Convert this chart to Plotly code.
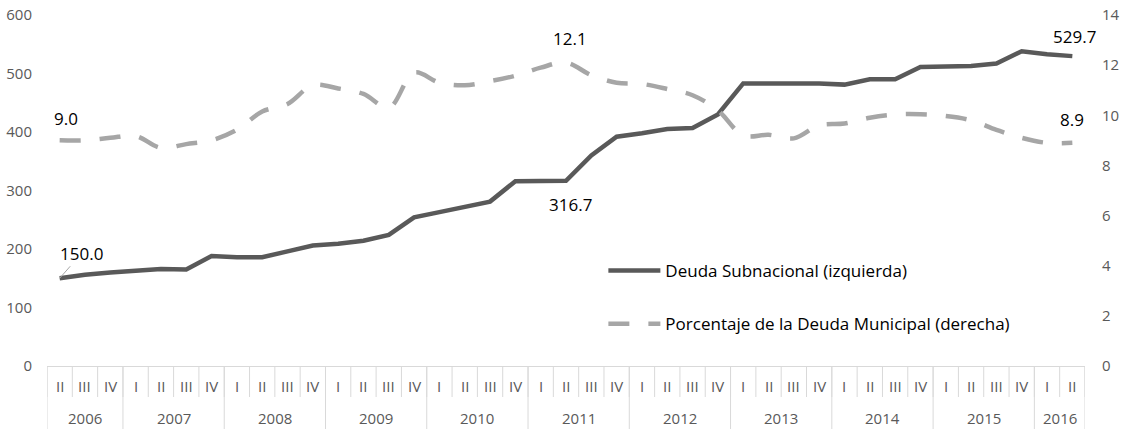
import plotly.graph_objects as go

# ---------------- data ----------------
years = ["2006"] * 3 + [str(y) for y in range(2007, 2016) for _ in range(4)] + ["2016"] * 2
quarters = ["II", "III", "IV"] + ["I", "II", "III", "IV"] * 9 + ["I", "II"]
categories = [f"{y} {q}" for y, q in zip(years, quarters)]

deuda_subnacional = [
    150.0, 156, 160, 163, 166, 165, 188, 186, 186, 196, 206,
    209, 214, 224, 254, 263, 272, 281, 316, 316, 316.7,
    360, 392, 398, 405, 407, 430, 483, 483, 483, 483,
    481, 490, 490, 511, 512, 513, 517, 538, 533, 529.7,
]
porcentaje_municipal = [
    9.0, 9.0, 9.1, 9.17, 8.7, 8.85, 9.0, 9.42, 10.15, 10.45, 11.2,
    11.07, 10.85, 10.3, 11.7, 11.3, 11.2, 11.36, 11.58, 11.9, 12.1,
    11.6, 11.3, 11.25, 11.05, 10.8, 10.2, 9.2, 9.22, 9.08, 9.6,
    9.67, 9.9, 10.03, 10.04, 9.97, 9.8, 9.42, 9.1, 8.9, 8.9,
]
left_ticks = [0, 100, 200, 300, 400, 500, 600]
right_ticks = [0, 2, 4, 6, 8, 10, 12, 14]

name_solid = "Deuda Subnacional (izquierda)"
name_dash = "Porcentaje de la Deuda Municipal (derecha)"

# ---------------- layout constants ----------------
W, H = 1127, 429
ML, MR, MT, MB = 47, 42, 15, 63
PH = H - MT - MB
FONT = "Open Sans"
GRAY_TXT = "#595959"
LINE_GRAY = "#D9D9D9"

fig = go.Figure()
fig.add_trace(go.Scatter(
    x=categories, y=deuda_subnacional, name=name_solid, mode="lines",
    line=dict(color="#595959", width=4.5), legendgroup="a", yaxis="y",
))
fig.add_trace(go.Scatter(
    x=categories, y=porcentaje_municipal, name=name_dash, mode="lines",
    line=dict(color="#A6A6A6", width=4.5, dash="21px,19px", shape="spline", smoothing=1),
    legendgroup="b", yaxis="y2",
))

annotations = []
n = len(categories)
lab_font = dict(size=17, color="#000000", family=FONT)
annotations.append(dict(x=categories[0], y=deuda_subnacional[0], xref="x", yref="y",
                        text=f"{deuda_subnacional[0]:.1f}", showarrow=True, ax=22, ay=-25,
                        arrowhead=0, arrowwidth=1, arrowcolor="#A6A6A6", standoff=0,
                        font=lab_font))
annotations.append(dict(x=categories[20], y=deuda_subnacional[20], xref="x", yref="y",
                        text=f"{deuda_subnacional[20]:.1f}", showarrow=False, xshift=4, yshift=-24,
                        font=lab_font))
annotations.append(dict(x=categories[n - 1], y=deuda_subnacional[n - 1], xref="x", yref="y",
                        text=f"{deuda_subnacional[n - 1]:.1f}", showarrow=False, xshift=2, yshift=20,
                        font=lab_font))
annotations.append(dict(x=categories[0], y=porcentaje_municipal[0], xref="x", yref="y2",
                        text=f"{porcentaje_municipal[0]:.1f}", showarrow=False, xshift=6, yshift=22,
                        font=lab_font))
annotations.append(dict(x=categories[20], y=porcentaje_municipal[20], xref="x", yref="y2",
                        text=f"{porcentaje_municipal[20]:.1f}", showarrow=False, xshift=4, yshift=24,
                        font=lab_font))
annotations.append(dict(x=categories[n - 1], y=porcentaje_municipal[n - 1], xref="x", yref="y2",
                        text=f"{porcentaje_municipal[n - 1]:.1f}", showarrow=False, xshift=0, yshift=23,
                        font=lab_font))

# category table: quarter labels and year labels
q_row_y = -20 / PH
y_row_y = -52 / PH
for c, q in zip(categories, quarters):
    annotations.append(dict(x=c, y=q_row_y, xref="x", yref="paper", text=q, showarrow=False,
                            yanchor="middle", font=dict(size=15, color=GRAY_TXT, family=FONT)))

shapes = []
q_bottom = -31 / PH
y_bottom = -MB / PH
for k in range(n + 1):
    shapes.append(dict(type="line", xref="x", yref="paper", x0=k - 0.5, x1=k - 0.5,
                       y0=0, y1=q_bottom, line=dict(color=LINE_GRAY, width=1)))

groups = []
for i, y in enumerate(years):
    if not groups or groups[-1][0] != y:
        groups.append([y, i, i])
    else:
        groups[-1][2] = i
for y, a, b in groups:
    annotations.append(dict(x=(a + b) / 2, y=y_row_y, xref="x", yref="paper", text=y,
                            showarrow=False, yanchor="middle",
                            font=dict(size=15, color=GRAY_TXT, family=FONT)))
    shapes.append(dict(type="line", xref="x", yref="paper", x0=a - 0.5, x1=a - 0.5,
                       y0=0, y1=y_bottom, line=dict(color=LINE_GRAY, width=1)))
shapes.append(dict(type="line", xref="x", yref="paper", x0=n - 0.5, x1=n - 0.5,
                   y0=0, y1=y_bottom, line=dict(color=LINE_GRAY, width=1)))

fig.update_layout(
    width=W, height=H,
    margin=dict(l=ML, r=MR, t=MT, b=MB, autoexpand=False),
    paper_bgcolor="white", plot_bgcolor="white",
    font=dict(family=FONT, color=GRAY_TXT, size=15),
    xaxis=dict(type="category", range=[-0.5, n - 0.5], showticklabels=False, ticks="",
               showgrid=False, zeroline=False, showline=True, linecolor=LINE_GRAY, linewidth=1),
    yaxis=dict(range=[0, 600], tickvals=left_ticks, showgrid=False, zeroline=False,
               showline=False, ticks="", ticklabelstandoff=14,
               tickfont=dict(size=15, color=GRAY_TXT, family=FONT)),
    yaxis2=dict(range=[0, 14], tickvals=right_ticks, overlaying="y", side="right",
                showgrid=False, zeroline=False, showline=False, ticks="", ticklabelstandoff=16,
                tickfont=dict(size=15, color=GRAY_TXT, family=FONT)),
    legend=dict(x=0.536, y=0.322, xanchor="left", yanchor="top", bgcolor="rgba(0,0,0,0)",
                itemwidth=52, tracegroupgap=28, traceorder="grouped",
                font=dict(size=17, color="#000000", family=FONT)),
    showlegend=True,
    annotations=annotations,
    shapes=shapes,
)

fig.write_html("out.html", config={"displayModeBar": False},
               post_script="document.body.style.margin='0';")
